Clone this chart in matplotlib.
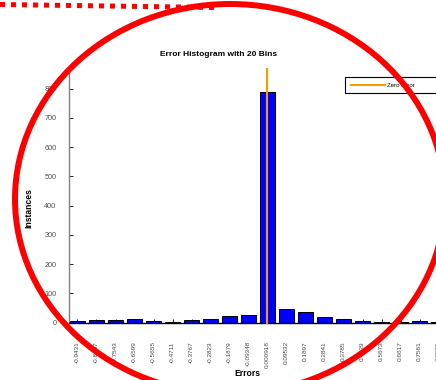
import matplotlib
matplotlib.use("Agg")
import matplotlib.pyplot as plt
from matplotlib.patches import Ellipse
from matplotlib.lines import Line2D

plt.rcParams['font.family'] = ['Liberation Sans', 'DejaVu Sans']

# bin centres of the error histogram and counts per bin
bin_centers = [-0.9431, -0.8487, -0.7543, -0.6599, -0.5655, -0.4711, -0.3767,
               -0.2823, -0.1879, -0.09348, 0.000918, 0.09532, 0.1897, 0.2841,
               0.3785, 0.4729, 0.5673, 0.6617, 0.7561, 0.8505]
bin_labels = ['-0.9431', '-0.8487', '-0.7543', '-0.6599', '-0.5655', '-0.4711',
              '-0.3767', '-0.2823', '-0.1879', '-0.09348', '0.000918', '0.09532',
              '0.1897', '0.2841', '0.3785', '0.4729', '0.5673', '0.6617',
              '0.7561', '0.8505']
counts = [5, 7, 7, 12, 5, 1, 9, 12, 23, 25, 788, 46, 35, 19, 13, 4, 1, 2, 6, 2]
zero_error = 0.0

W, H = 436, 380
fig = plt.figure(figsize=(W / 100, H / 100), dpi=100)
ax = fig.add_axes([69 / W, 1 - 322.5 / H, 378 / W, 253.5 / H])

ax.bar(bin_centers, counts, width=0.078, color='#0000ff',
       edgecolor='black', linewidth=0.7, zorder=2)
ax.plot([zero_error, zero_error], [0, 867], color='#ff9900', linewidth=1.5,
        label='Zero Error', zorder=3, clip_on=False)

ax.set_xlim(-0.9853, 0.8925)
ax.set_ylim(0, 867)
ax.set_xticks(bin_centers)
ax.set_xticklabels(bin_labels, rotation=90, fontsize=4.6, color='#4d4d4d')
ax.set_yticks(range(0, 801, 100))
ax.set_yticklabels([str(v) for v in range(0, 801, 100)], fontsize=5.2, color='#4d4d4d')
ax.tick_params(axis='x', direction='in', length=3, width=0.6, pad=13.5)
ax.tick_params(axis='y', direction='in', length=3, width=0.6, pad=9)
for lbl in ax.get_xticklabels():
    lbl.set_verticalalignment('top')

for side in ['top', 'right']:
    ax.spines[side].set_visible(False)
ax.spines['left'].set_color('#808080')
ax.spines['left'].set_linewidth(1.0)
ax.spines['bottom'].set_color('black')
ax.spines['bottom'].set_linewidth(1.0)

ax.set_ylabel('Instances', fontsize=6.2, fontweight='bold')
ax.yaxis.set_label_coords(-0.095, 0.452)
ax.set_xlabel('Errors', fontsize=6.2, fontweight='bold')
ax.xaxis.set_label_coords(0.472, -0.185)
fig.text(219 / W, 1 - 54 / H, 'Error Histogram with 20 Bins', fontsize=6,
         fontweight='bold', ha='center', va='center')

leg = ax.legend(loc='upper left', bbox_to_anchor=(345 / W, 1 - 95 / H, 105 / W, 18 / H),
                bbox_transform=fig.transFigure, mode='expand', borderaxespad=0,
                fontsize=4.4, handlelength=5.6, handletextpad=0.4,
                borderpad=0.9, fancybox=False, framealpha=1)
leg.get_frame().set_edgecolor('black')
leg.get_frame().set_linewidth(0.8)

# red highlight ring and dotted guide line
fig.add_artist(Ellipse((230 / W, 1 - 199 / H), 430 / W, 390 / H,
                       transform=fig.transFigure, fill=False,
                       edgecolor='#ff0000', linewidth=4.3, zorder=10))
fig.add_artist(Line2D([0, 215 / W], [1 - 4.5 / H, 1 - 7.5 / H],
                      transform=fig.transFigure, color='#ff0000',
                      linewidth=3.6, linestyle=(0, (1, 1.2)),
                      dash_capstyle='butt', zorder=10))

fig.savefig('out.png', dpi=100)
